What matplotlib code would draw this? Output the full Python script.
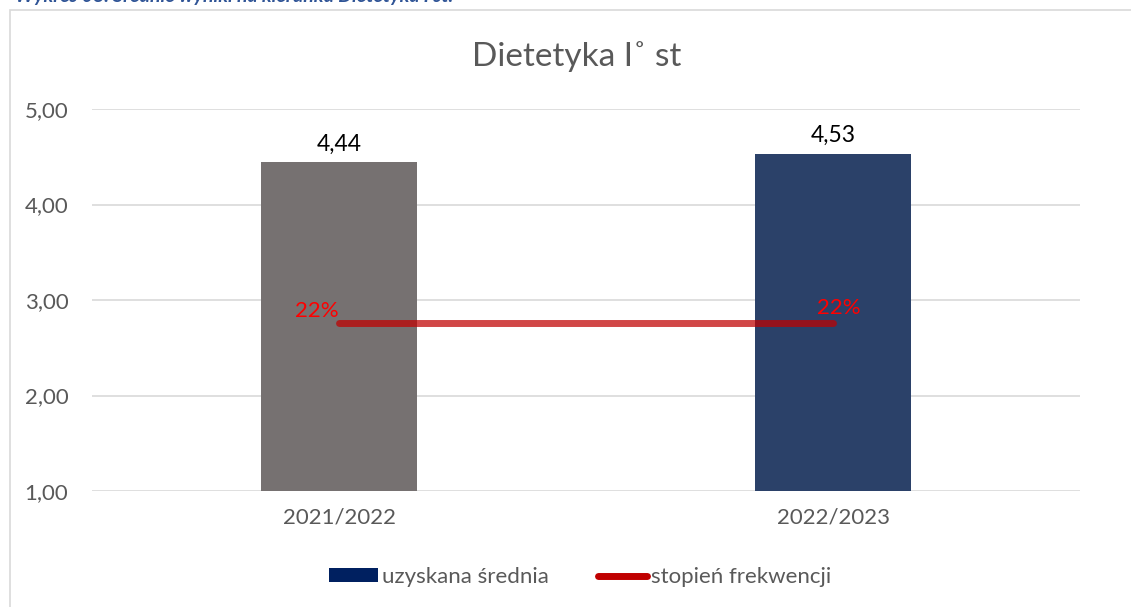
import matplotlib.pyplot as plt
from matplotlib.patches import Rectangle
from matplotlib.lines import Line2D
from matplotlib.patches import Patch

plt.rcParams['font.family'] = ['Lato', 'DejaVu Sans']

# dane
lata = ['2021/2022', '2022/2023']
srednia = [4.44, 4.53]
frekwencja = [0.22, 0.22]
kolory_slupkow = ['#767171', '#2B4169']

fig = plt.figure(figsize=(11.31, 6.07), dpi=100)

# ramka wykresu (jak w Excelu, ucieta na krawedzi)
fig.patches.append(Rectangle((10 / 1131, -0.1), 1.2, 1 - 10 / 607 + 0.1,
                             transform=fig.transFigure, fill=False,
                             edgecolor='#D9D9D9', linewidth=1.2))

# podpis nad wykresem - widoczny tylko dol liter
fig.text(15 / 1131, 1 - 2 / 607, 'Wykres 08. Średnie wyniki na kierunku Dietetyka I st.',
         color='#2F5496', fontsize=14, style='italic', weight='bold',
         ha='left', va='baseline')

ax = fig.add_axes([92 / 1131, 1 - 491 / 607, (1080 - 92) / 1131, (491 - 109) / 607])
x = range(len(lata))
bars = ax.bar(x, srednia, width=0.314, color=kolory_slupkow, bottom=0, zorder=2)
ax.set_ylim(1, 5)
ax.set_xlim(-0.5, 1.5)
ax.set_yticks([1, 2, 3, 4, 5])
ax.set_yticklabels([f'{v:.2f}'.replace('.', ',') for v in [1, 2, 3, 4, 5]],
                   fontsize=16, color='#595959')
ax.set_xticks(list(x))
ax.set_xticklabels(lata, fontsize=16, color='#595959')
ax.tick_params(axis='both', length=0)
ax.tick_params(axis='y', pad=17)
ax.tick_params(axis='x', pad=12)
ax.grid(axis='y', color='#D9D9D9', linewidth=1.2, zorder=0)
for s in ax.spines.values():
    s.set_visible(False)

for i, v in enumerate(srednia):
    ax.text(i, v + 0.08, f'{v:.2f}'.replace('.', ','), ha='center', va='bottom',
            fontsize=16.5, color='black')

# os pomocnicza dla frekwencji (ukryta)
ax2 = ax.twinx()
ax2.set_ylim(0, 0.5)
ax2.plot(list(x), frekwencja, color='#C00000', alpha=0.72, linewidth=5,
         solid_capstyle='round', zorder=3)
ax2.set_yticks([])
for s in ax2.spines.values():
    s.set_visible(False)
ax2.text(0, frekwencja[0] + 0.002, f'{frekwencja[0]:.0%}', ha='right', va='bottom',
         fontsize=16, color='#FF0000')
ax2.text(1 + 0.012, frekwencja[1] + 0.007, f'{frekwencja[1]:.0%}', ha='center', va='bottom',
         fontsize=16, color='#FF0000')

# tytul
fig.text(577 / 1131, 1 - 57 / 607, 'Dietetyka I˚ st', ha='center', va='center',
         fontsize=24, color='#595959')

# legenda
uchwyty = [Patch(facecolor='#002060', edgecolor='none'),
           Line2D([0], [0], color='#C00000', linewidth=5, solid_capstyle='round')]
fig.legend(uchwyty, ['uzyskana średnia', 'stopień frekwencji'],
           loc='center', bbox_to_anchor=(580 / 1131, 1 - 577 / 607), ncol=2,
           frameon=False, fontsize=16, labelcolor='#595959',
           handlelength=2.2, handleheight=0.55, handletextpad=0.2, columnspacing=2.2)

fig.savefig('out.png', dpi=100)
